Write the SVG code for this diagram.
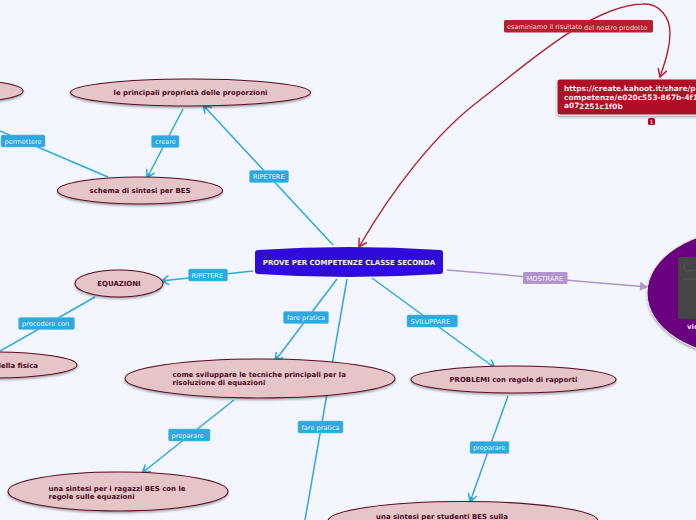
<svg xmlns="http://www.w3.org/2000/svg" width="696" height="520" viewBox="0 0 696 520">
<defs>
<filter id="sh" x="-10%" y="-20%" width="120%" height="150%"><feDropShadow dx="0" dy="1.5" stdDeviation="1" flood-color="#000" flood-opacity="0.35"/></filter>
<marker id="ab" markerUnits="userSpaceOnUse" markerWidth="12" markerHeight="12" refX="9" refY="5" orient="auto"><path d="M1 0.5L9 5L1 9.5" fill="none" stroke="#2fa8e0" stroke-width="1.5"/><path d="M4 3L9 5L4 7Z" fill="#2fa8e0"/></marker>
<marker id="ar" markerUnits="userSpaceOnUse" markerWidth="12" markerHeight="12" refX="9" refY="5" orient="auto-start-reverse"><path d="M1 0.5L9 5L1 9.5" fill="none" stroke="#b81f2c" stroke-width="1.5"/></marker>
<marker id="ap" markerUnits="userSpaceOnUse" markerWidth="12" markerHeight="12" refX="9" refY="5" orient="auto"><path d="M1 0.5L9 5L1 9.5Z" fill="#b096cc"/></marker>
</defs>
<style>
text{font-family:"DejaVu Sans",Verdana,sans-serif}
.n{fill:#e6c5c9;stroke:#5a0f22;stroke-width:1.1;filter:url(#sh)}
.t{font-size:6.95px;font-weight:700;fill:#4a0a1e}
.c{fill:none;stroke:#2fa8e0;stroke-width:1.5}
.lb{fill:#2fa8e0;stroke:#5fbde8;stroke-width:.5}
.l{font-size:6.6px;fill:#e6f4fc}
.lr{font-size:6.6px;fill:#f3d6d8}
</style>
<rect width="696" height="520" fill="#f3f6ff"/>
<g id="connectors">
<path class="c" d="M333 245L203 105" marker-end="url(#ab)"/>
<path class="c" d="M183 109L147 178" marker-end="url(#ab)"/>
<path class="c" d="M0 131L108 177"/>
<path class="c" d="M253 271L161 281" marker-end="url(#ab)"/>
<path class="c" d="M95 297L0 351"/>
<path class="c" d="M337 279L275 361" marker-end="url(#ab)"/>
<path class="c" d="M347 279L305 520"/>
<path class="c" d="M372 278L495 368" marker-end="url(#ab)"/>
<path class="c" d="M234 400L142 473" marker-end="url(#ab)"/>
<path class="c" d="M508 396L470 502" marker-end="url(#ab)"/>
<path d="M447 270L648 287" fill="none" stroke="#b096cc" stroke-width="1.5" marker-end="url(#ap)"/>
<path d="M359 247C392 190 435 134 480 100C520 70 590 5 643 4C660 3 670 18 670 33C670 48 665 62 660 77" fill="none" stroke="#b81f2c" stroke-width="1.4" marker-start="url(#ar)" marker-end="url(#ar)"/>
</g>
<g id="label-esaminiamo"><rect x="504" y="20" width="149" height="12.500" rx="1.500" fill="#b81f2c"/><text class="lr" x="507" y="28.500">esaminiamo il risultato</text><text class="lr" x="584" y="29.500">del nostro prodotto</text></g>
<g id="node-kahoot"><rect x="557" y="79" width="160" height="36" rx="3" fill="#b00a28" stroke="#f0f0f0" stroke-width="1" filter="url(#sh)"/><text x="564" y="90.500" font-size="7.400" font-weight="700" fill="#f7e8ea">https://create.kahoot.it/share/p</text><text x="564" y="99.500" font-size="7.400" font-weight="700" fill="#f7e8ea">competenze/e020c553-867b-4f18</text><text x="564" y="108" font-size="7.400" font-weight="700" fill="#f7e8ea">a07<tspan x="579" y="108.500">2251c1f0b</tspan></text><rect x="648" y="118" width="7" height="7" rx="1.500" fill="#b00a28"/><text x="651.500" y="123.500" font-size="5.500" text-anchor="middle" fill="#fff">1</text></g>
<g id="node-video"><ellipse cx="747" cy="293" rx="100" ry="64" fill="#6a0080" stroke="#e8e8e8" stroke-width="1" filter="url(#sh)"/><rect x="678" y="257" width="30" height="62" fill="#454545"/><path d="M687 262q-6 3-1 9q6 0 9-1M682 279h14" fill="none" stroke="#5f5f5f" stroke-width=".7"/><text x="687" y="328.500" font-size="7" font-weight="700" fill="#f3e6f6">vid</text></g>
<g id="node-central"><path d="M258 250Q349 244 440 250Q443 250 443 253L443 271Q443 274 440 274Q349 280 258 274Q255 274 255 271L255 253Q255 250 258 250Z" fill="#2f0adb"/><text x="349" y="264.500" text-anchor="middle" font-size="7px" font-weight="700" fill="#f4f2ff">PROVE PER COMPETENZE CLASSE SECONDA</text></g>
<g id="node-topleft"><ellipse cx="-37" cy="91" rx="60" ry="11" class="n"/></g>
<g id="node-proporzioni"><ellipse cx="190.500" cy="92.500" rx="120" ry="13.500" class="n"/><text class="t" x="190.500" y="95" text-anchor="middle">le principali proprietà delle proporzioni</text></g>
<g id="node-schema"><ellipse cx="140" cy="190.500" rx="82.500" ry="13.500" class="n"/><text class="t" x="140" y="193" text-anchor="middle">schema di sintesi per BES</text></g>
<g id="node-equazioni"><ellipse cx="119" cy="283.500" rx="44" ry="13.500" class="n"/><text class="t" x="119" y="286" text-anchor="middle">EQUAZIONI</text></g>
<g id="node-fisica"><ellipse cx="-9" cy="365" rx="86" ry="13" class="n"/><text class="t" x="38" y="367.500" text-anchor="end">della fisica</text></g>
<g id="node-tecniche"><ellipse cx="260" cy="378.500" rx="135" ry="19.500" class="n"/><text class="t" x="172.500" y="377">come sviluppare le tecniche principali per la</text><text class="t" x="172.500" y="385">risoluzione di equazioni</text></g>
<g id="node-problemi"><ellipse cx="513.500" cy="379.500" rx="102.500" ry="13.500" class="n"/><text class="t" x="513.500" y="382" text-anchor="middle">PROBLEMI con regole di rapporti</text></g>
<g id="node-sintesi-ragazzi"><ellipse cx="118" cy="491.500" rx="110" ry="19.500" class="n"/><text class="t" x="48.500" y="490.500">una sintesi per i ragazzi BES con le</text><text class="t" x="48.500" y="498.500">regole sulle equazioni</text></g>
<g id="node-sintesi-studenti"><ellipse cx="463" cy="521" rx="135" ry="19.500" class="n"/><text class="t" x="376" y="519">una sintesi per studenti BES sulla</text></g>
<g id="label-ripetere1"><rect class="lb" x="249.500" y="170.500" width="39" height="12" rx="1.500"/><text class="l" x="253" y="179">RIPETERE</text></g>
<g id="label-creare"><rect class="lb" x="151.500" y="135.500" width="27.500" height="12" rx="1.500"/><text class="l" x="155" y="144">creare</text></g>
<g id="label-permettere"><rect class="lb" x="1" y="135" width="44" height="12" rx="1.500"/><text class="l" x="4.500" y="143.500">permettere</text></g>
<g id="label-ripetere2"><rect class="lb" x="188.500" y="269" width="39" height="12" rx="1.500"/><text class="l" x="191.500" y="277.500">RIPETERE</text></g>
<g id="label-procedere"><rect class="lb" x="18.500" y="317.500" width="56" height="12" rx="1.500"/><text class="l" x="22" y="326">procedere con</text></g>
<g id="label-fare1"><rect class="lb" x="283.500" y="311.500" width="45" height="12" rx="1.500"/><text class="l" x="287" y="320">fare pratica</text></g>
<g id="label-sviluppare"><rect class="lb" x="407" y="315" width="50.500" height="12" rx="1.500"/><text class="l" x="410.500" y="323.500">SVILUPPARE</text></g>
<g id="label-mostrare"><rect x="523" y="272" width="44.500" height="12" rx="1.500" fill="#b096cc"/><text x="526.500" y="280.500" font-size="6.600" fill="#f3eef8">MOSTRARE</text></g>
<g id="label-fare2"><rect class="lb" x="298" y="421" width="45" height="12" rx="1.500"/><text class="l" x="301.500" y="429.500">fare pratica</text></g>
<g id="label-preparare1"><rect class="lb" x="168.500" y="429" width="41.500" height="12" rx="1.500"/><text class="l" x="171.500" y="437.500">preparare</text></g>
<g id="label-preparare2"><rect class="lb" x="470" y="441.500" width="39" height="12" rx="1.500"/><text class="l" x="473" y="450">preparare</text></g>
</svg>
